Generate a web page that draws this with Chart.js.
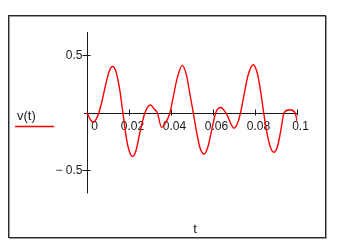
<!DOCTYPE html>
<html>
<head>
<meta charset="utf-8">
<script src="https://cdn.jsdelivr.net/npm/chart.js@4/dist/chart.umd.min.js"></script>
<style>
  html, body { margin: 0; padding: 0; background: #fff; }
  #wrap { position: relative; width: 338px; height: 251px; }
</style>
</head>
<body>
<div id="wrap"><canvas id="plot"></canvas></div>
<script>
// values: v(t) against t
const tValues = [
  0.0000, 0.0014, 0.0029, 0.0043, 0.0056, 0.0072, 0.0089, 0.0105, 0.0122, 0.0138,
  0.0155, 0.0170, 0.0185, 0.0200, 0.0216, 0.0232, 0.0250, 0.0275, 0.0302, 0.0320,
  0.0334, 0.0354, 0.0374, 0.0394, 0.0410, 0.0430, 0.0452, 0.0472, 0.0490, 0.0505,
  0.0522, 0.0538, 0.0556, 0.0574, 0.0594, 0.0612, 0.0635, 0.0660, 0.0699, 0.0716,
  0.0730, 0.0745, 0.0765, 0.0790, 0.0810, 0.0826, 0.0840, 0.0856, 0.0872, 0.0889,
  0.0906, 0.0922, 0.0937, 0.0965, 0.0989, 0.1000
];
const vValues = [
  0.000, -0.055, -0.083, -0.055, 0.000, 0.110, 0.250, 0.360, 0.400, 0.350,
  0.200, 0.000, -0.200, -0.330, -0.380, -0.330, -0.180, 0.000, 0.067, 0.030,
  0.000, -0.127, -0.085, 0.000, 0.140, 0.310, 0.410, 0.330, 0.150, 0.000,
  -0.180, -0.310, -0.358, -0.300, -0.140, 0.000, 0.045, 0.000, -0.135, -0.090,
  0.000, 0.140, 0.320, 0.416, 0.340, 0.180, 0.000, -0.180, -0.300, -0.343,
  -0.290, -0.150, 0.000, 0.025, 0.000, -0.078
];

const xTicks = [0, 0.02, 0.04, 0.06, 0.08, 0.1];
const xTickLabels = ['0', '0.02', '0.04', '0.06', '0.08', '0.1'];
const yTicks = [0.5, -0.5];
const yTickLabels = ['0.5', '\u2212 0.5'];

const FONT = '"Liberation Sans", Arial, sans-serif';

// Mathcad style frame, crossed axes, ticks and labels
const mathcadAxes = {
  id: 'mathcadAxes',
  beforeDatasetsDraw(chart) {
    const { ctx } = chart;
    const xs = chart.scales.x;
    const ys = chart.scales.y;
    const x0 = Math.round(xs.getPixelForValue(0)) + 0.5;
    const y0 = Math.round(ys.getPixelForValue(0)) + 0.5;

    ctx.save();
    // outer frame
    ctx.strokeStyle = '#9a9a9a';
    ctx.lineWidth = 1;
    ctx.strokeRect(9.5, 16.5, 317, 222);
    ctx.strokeStyle = '#2a2a2a';
    ctx.strokeRect(8.5, 15.5, 317, 222);

    // axes
    ctx.strokeStyle = '#1a1a1a';
    ctx.beginPath();
    ctx.moveTo(x0, ys.top);
    ctx.lineTo(x0, ys.bottom);
    ctx.moveTo(xs.left, y0);
    ctx.lineTo(xs.right, y0);
    ctx.stroke();

    // x ticks + labels
    ctx.font = '12px ' + FONT;
    ctx.fillStyle = '#1a1a1a';
    ctx.textAlign = 'center';
    ctx.textBaseline = 'middle';
    xTicks.forEach((v, i) => {
      const px = Math.round(xs.getPixelForValue(v)) + 0.5;
      if (v !== 0) {
        ctx.beginPath();
        ctx.moveTo(px, y0 - 4);
        ctx.lineTo(px, y0 + 2);
        ctx.stroke();
      }
      const shift = v === 0 ? 7 : 3;
      ctx.fillText(xTickLabels[i], px + shift, y0 + 13);
    });

    // y ticks + labels
    ctx.textAlign = 'right';
    yTicks.forEach((v, i) => {
      const py = Math.round(ys.getPixelForValue(v)) + 0.5;
      ctx.beginPath();
      ctx.moveTo(x0 - 5, py);
      ctx.lineTo(x0 + 3, py);
      ctx.stroke();
      ctx.fillText(yTickLabels[i], x0 - 5, py + 0.5);
    });

    // legend and axis title
    ctx.font = '13px ' + FONT;
    ctx.textAlign = 'left';
    ctx.fillText('v(t)', 17, 116);
    ctx.textAlign = 'center';
    ctx.fillText('t', 195, 229);
    ctx.strokeStyle = '#ff0000';
    ctx.lineWidth = 1.5;
    ctx.beginPath();
    ctx.moveTo(15, 126.5);
    ctx.lineTo(54, 126.5);
    ctx.stroke();
    ctx.restore();
  }
};

new Chart(document.getElementById('plot'), {
  type: 'line',
  data: {
    datasets: [{
      label: 'v(t)',
      data: tValues.map((t, i) => ({ x: t, y: vValues[i] })),
      borderColor: '#ff0000',
      borderWidth: 1.4,
      pointRadius: 0,
      cubicInterpolationMode: 'monotone',
      fill: false
    }]
  },
  options: {
    responsive: true,
    maintainAspectRatio: false,
    animation: false,
    layout: { padding: { left: 84, right: 40.7, top: 31.9, bottom: 57.5 } },
    plugins: { legend: { display: false }, tooltip: { enabled: false } },
    scales: {
      x: { type: 'linear', min: -0.0015, max: 0.1, display: false },
      y: { type: 'linear', min: -0.7, max: 0.7, display: false }
    }
  },
  plugins: [mathcadAxes]
});
</script>
</body>
</html>
